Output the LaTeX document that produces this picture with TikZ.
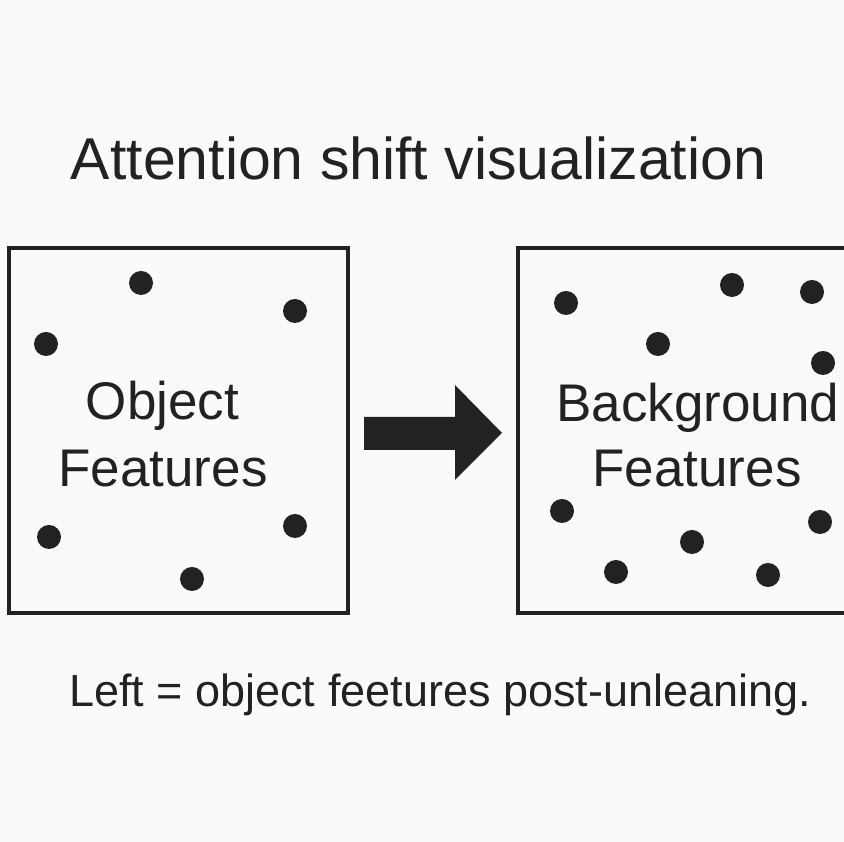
\documentclass[tikz,border=0pt]{standalone}
\usepackage{fontspec}
\setmainfont{Liberation Sans}
\begin{document}
\begin{tikzpicture}[x=1pt,y=1pt,
  dot/.style={fill=drawColor},
  frameline/.style={draw=drawColor,line width= 3.5pt,line join=miter},
  label/.style={text=drawColor,anchor=base,inner sep=0pt, outer sep=0pt}]
\definecolor{fillColor}{RGB}{250,250,250}
\definecolor{drawColor}{RGB}{34,34,34}
\path[use as bounding box,fill=fillColor] (0,0) rectangle (844,842);

\node[label] (title) at (418.5,662) {\fontsize{59}{66}\selectfont Attention shift visualization};

% left panel
\path[frameline] (  9.00,594.00) rectangle (348.00,229.00);

\path[dot] (141,559) circle (12);
\path[dot] (295,531) circle (12);
\path[dot] ( 46,498) circle (12);
\path[dot] ( 49,305) circle (12);
\path[dot] (295,316) circle (12);
\path[dot] (192,263) circle (12);

\node[label] (objA) at (162.5,422) {\fontsize{53}{60}\selectfont Object};
\node[label] (objB) at (163.0,355) {\fontsize{53}{60}\selectfont Features};

% arrow
\path[fill=drawColor] (364.00,425.00) --
	(455.00,425.00) --
	(455.00,457.00) --
	(502.00,409.00) --
	(455.00,362.00) --
	(455.00,392.00) --
	(364.00,392.00) --
	cycle;

% right panel
\path[frameline] (844.00,594.00) --
	(518.00,594.00) --
	(518.00,229.00) --
	(844.00,229.00);

\path[dot] (566,539) circle (12);
\path[dot] (732,557) circle (12);
\path[dot] (812,550) circle (12);
\path[dot] (658,498) circle (12);
\path[dot] (823,479) circle (12);
\path[dot] (562,331) circle (12);
\path[dot] (692,300) circle (12);
\path[dot] (820,320) circle (12);
\path[dot] (616,270) circle (12);
\path[dot] (768,267) circle (12);

\node[label] (bgA) at (698,420) {\fontsize{53}{60}\selectfont Background};
\node[label] (bgB) at (697,355) {\fontsize{53}{60}\selectfont Features};

\node[label] (note) at (440,135) {\fontsize{45}{52}\selectfont Left = object feetures post-unleaning.};
\end{tikzpicture}
\end{document}
